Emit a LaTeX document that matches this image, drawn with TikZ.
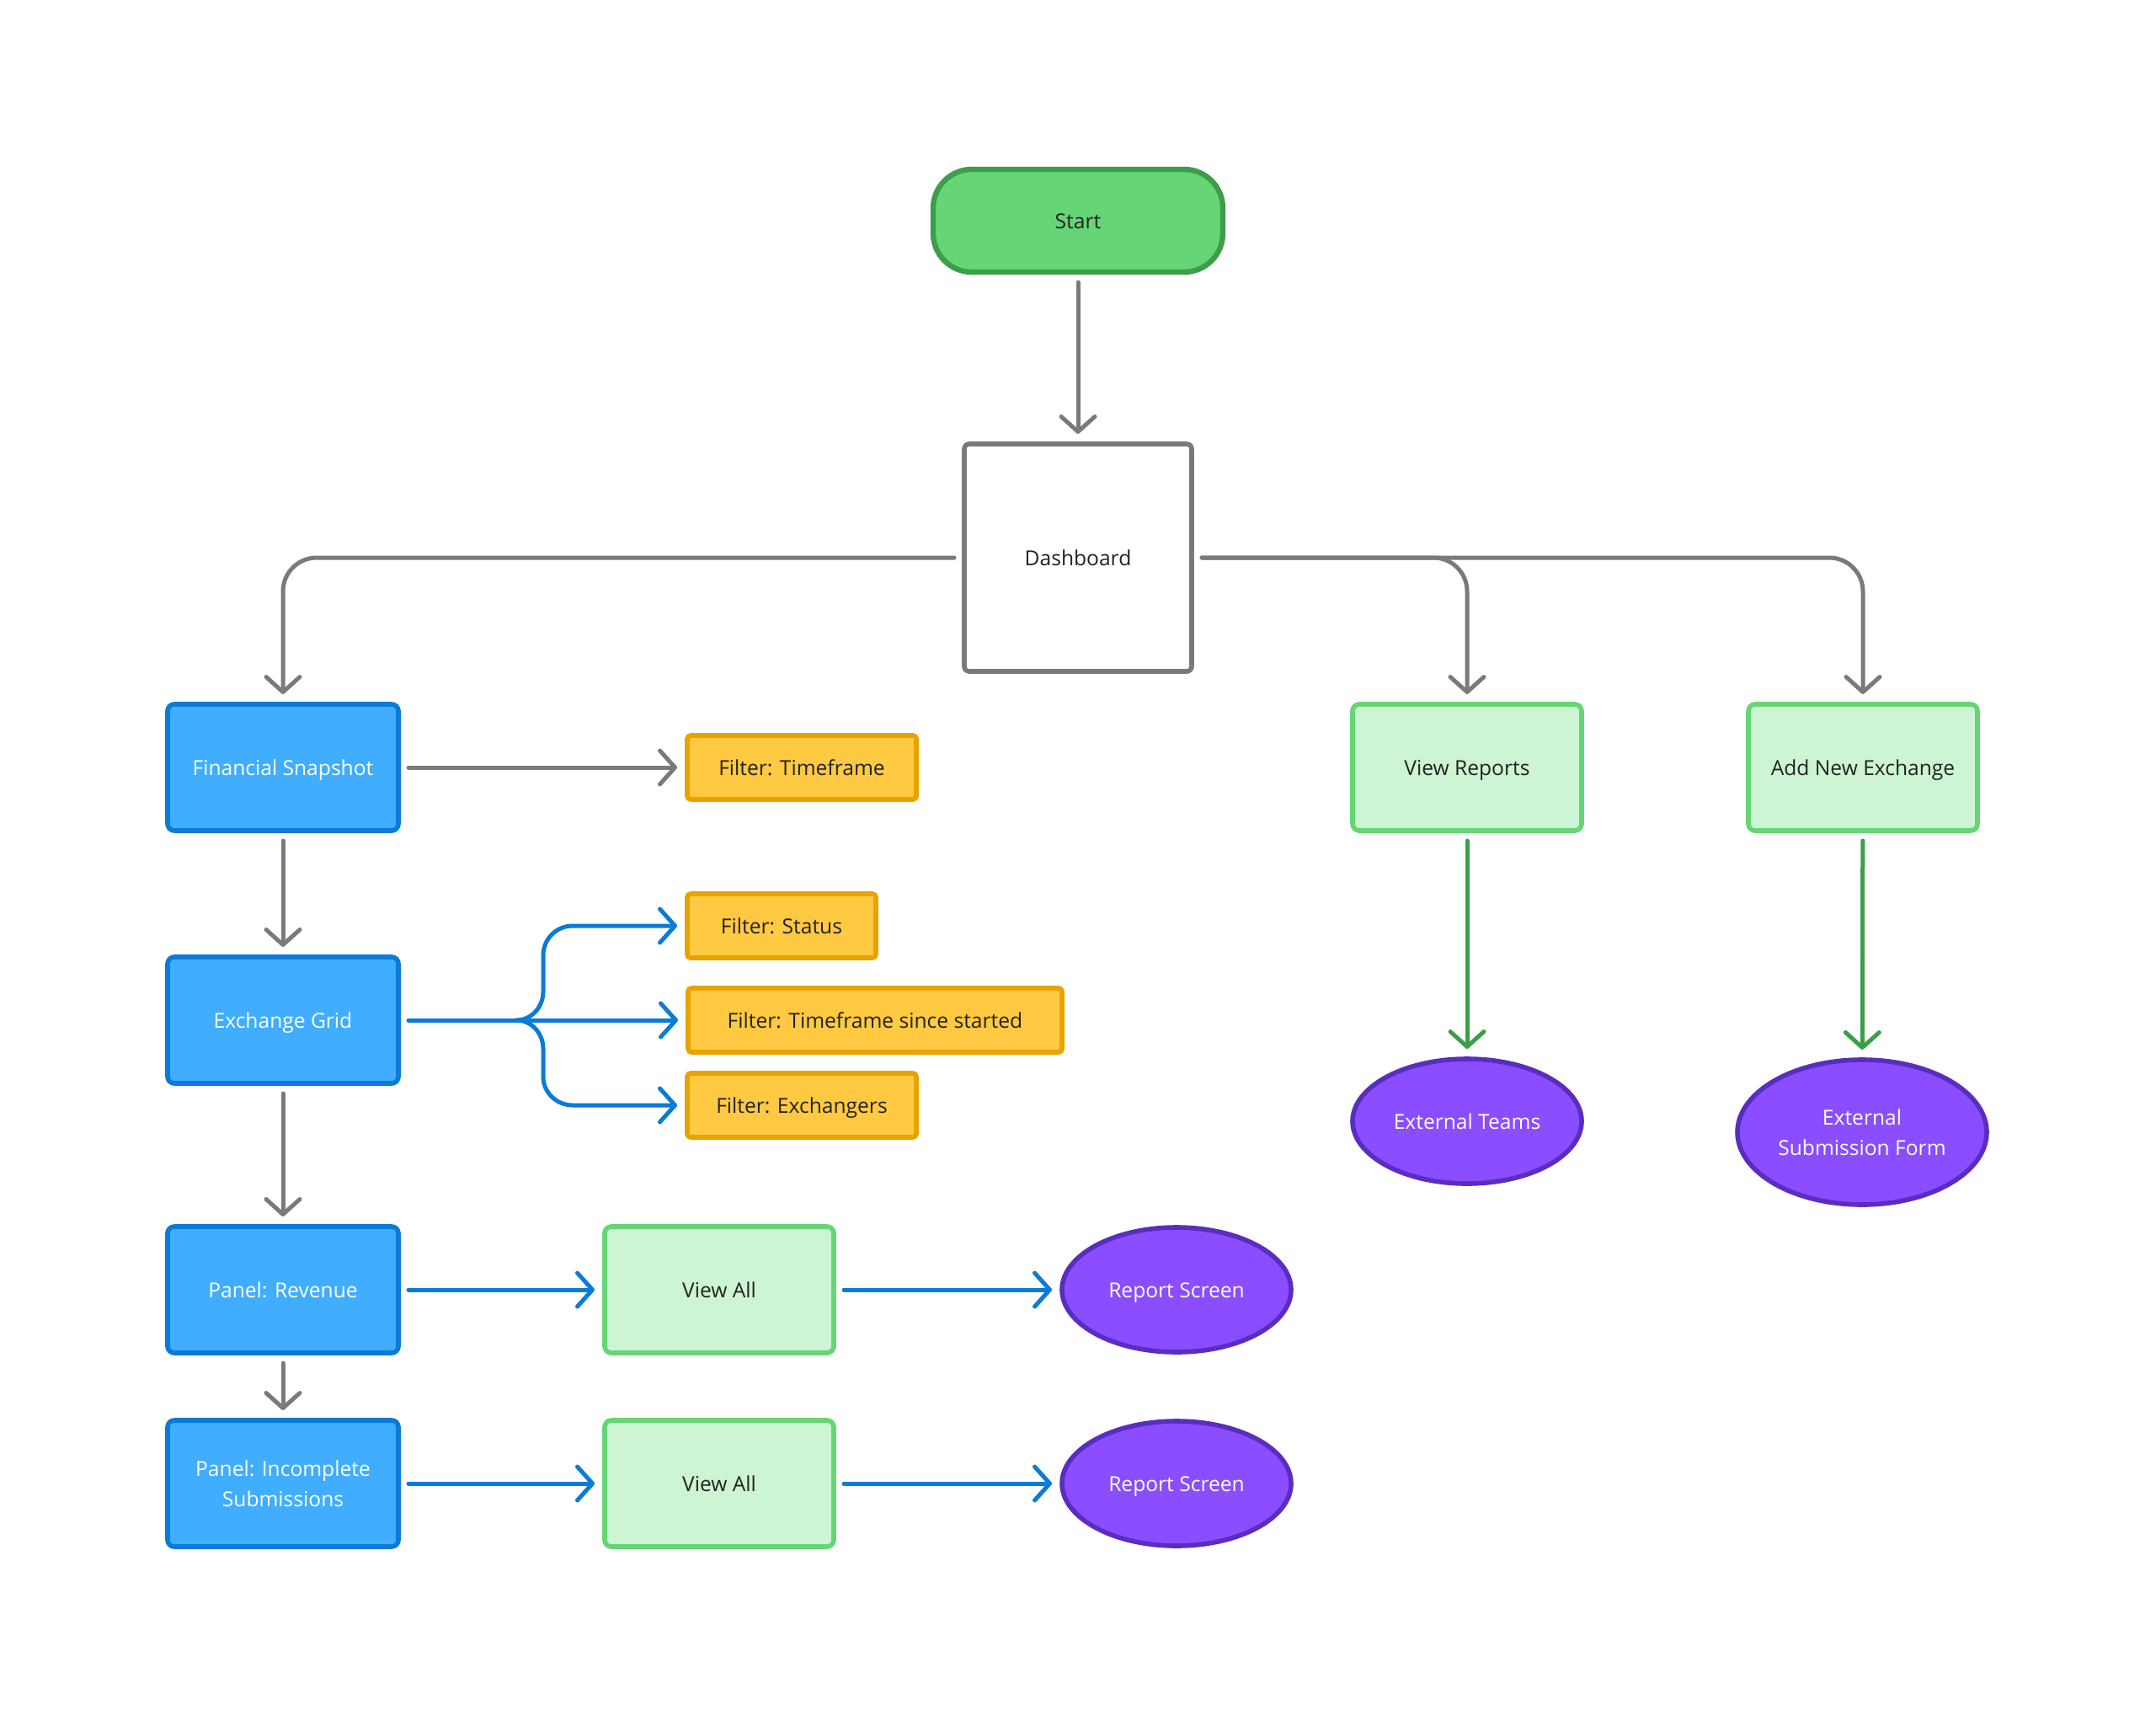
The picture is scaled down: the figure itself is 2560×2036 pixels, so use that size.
\documentclass[tikz,border=0pt]{standalone}
\usepackage{fontspec}
\setmainfont{Open Sans}
\usetikzlibrary{arrows.meta,shapes.geometric}
\definecolor{startfill}{HTML}{66D575}
\definecolor{startdraw}{HTML}{3D9E4A}
\definecolor{greyline}{HTML}{7A7A7A}
\definecolor{bluefill}{HTML}{40ADFF}
\definecolor{bluedraw}{HTML}{0A7BD6}
\definecolor{yelfill}{HTML}{FFC942}
\definecolor{yeldraw}{HTML}{E8A300}
\definecolor{lgfill}{HTML}{CDF4D3}
\definecolor{lgdraw}{HTML}{66D575}
\definecolor{purfill}{HTML}{8A4DFF}
\definecolor{purdraw}{HTML}{5A2DC0}
\definecolor{txt}{HTML}{222222}
\tikzset{
  base/.style={font=\fontsize{12.3}{18}\selectfont, align=center, outer sep=6pt, line width=2.8pt, inner sep=0pt},
  oneline/.style={text height=9pt, text depth=0pt},
  startbox/.style={base, oneline, draw=startdraw, fill=startfill, text=txt, rounded corners=23pt, minimum width=172pt, minimum height=61pt, line width=3.2pt},
  dashbox/.style={base, oneline, draw=greyline, fill=white, text=txt, rounded corners=3pt, minimum width=135pt, minimum height=135pt},
  bluebox/.style={base, draw=bluedraw, fill=bluefill, text=white, rounded corners=4pt, minimum width=137pt, minimum height=75pt},
  yelbox/.style={base, oneline, draw=yeldraw, fill=yelfill, text=txt, rounded corners=2pt, minimum height=38pt},
  lgbox/.style={base, oneline, draw=lgdraw, fill=lgfill, text=txt, rounded corners=4pt, minimum width=136pt, minimum height=75pt},
  purell/.style={base, ellipse, draw=purdraw, fill=purfill, text=white, minimum width=136pt, minimum height=74pt},
  conn/.style={line width=2.5pt, line cap=round, line join=round, -{Straight Barb[length=9pt,width=20pt,round]}},
  greyarrow/.style={conn, draw=greyline},
  bluearrow/.style={conn, draw=bluedraw},
  greenarrow/.style={conn, draw=startdraw},
}
\begin{document}
\begin{tikzpicture}[x=0.5pt,y=-0.5pt]
\useasboundingbox (0,0) rectangle (2560,2036);
\node[startbox] (start) at (1280,262) {Start};
\node[dashbox] (dash) at (1280,662) {Dashboard};
\node[bluebox, oneline] (fs) at (336,911) {Financial Snapshot};
\node[bluebox, oneline] (eg) at (336,1211) {Exchange Grid};
\node[bluebox, oneline] (pr) at (336,1531) {Panel: Revenue};
\node[bluebox] (pi) at (336,1761) {Panel: Incomplete\\Submissions};
\node[yelbox, minimum width=136pt] (ft) at (952,911) {Filter: Timeframe};
\node[yelbox, minimum width=112pt] (fst) at (928,1099) {Filter: Status};
\node[yelbox, minimum width=222pt] (ftss) at (1039,1211) {Filter: Timeframe since started};
\node[yelbox, minimum width=136pt] (fex) at (952,1312) {Filter: Exchangers};
\node[lgbox] (va1) at (854,1531) {View All};
\node[lgbox] (va2) at (854,1761) {View All};
\node[purell, oneline] (rs1) at (1397,1531) {Report Screen};
\node[purell, oneline] (rs2) at (1397,1761) {Report Screen};
\node[lgbox] (vr) at (1742,911) {View Reports};
\node[lgbox] (ane) at (2212,911) {Add New Exchange};
\node[purell, oneline] (et) at (1742,1331) {External Teams};
\node[purell, minimum width=148pt, minimum height=86pt] (esf) at (2211,1344) {External\\Submission Form};
\coordinate (jn) at (613,1211);
% grey connectors
\draw[greyarrow] (start) -- (dash);
\draw[greyarrow, rounded corners=20pt] (dash.west) -| (fs.north);
\draw[greyarrow, rounded corners=20pt] (dash.east) -| (vr.north);
\draw[greyarrow, rounded corners=20pt] (dash.east) -| (ane.north);
\draw[greyarrow] (fs) -- (ft);
\draw[greyarrow] (fs) -- (eg);
\draw[greyarrow] (eg) -- (pr);
\draw[greyarrow] (pr) -- (pi);
% blue connectors
\draw[bluearrow] (eg.east) -- (jn) -- (ftss.west);
\draw[bluearrow] (jn) to[out=0,in=-90] (645,1177) -- (645,1134) to[out=90,in=180] (680,1099) -- (fst.west);
\draw[bluearrow] (jn) to[out=0,in=90] (645,1245) -- (645,1278) to[out=-90,in=180] (680,1312) -- (fex.west);
\draw[bluearrow] (pr) -- (va1);
\draw[bluearrow] (va1) -- (rs1);
\draw[bluearrow] (pi) -- (va2);
\draw[bluearrow] (va2) -- (rs2);
% green connectors
\draw[greenarrow] (vr) -- (et);
\draw[greenarrow] (ane) -- (esf);
\end{tikzpicture}
\end{document}
